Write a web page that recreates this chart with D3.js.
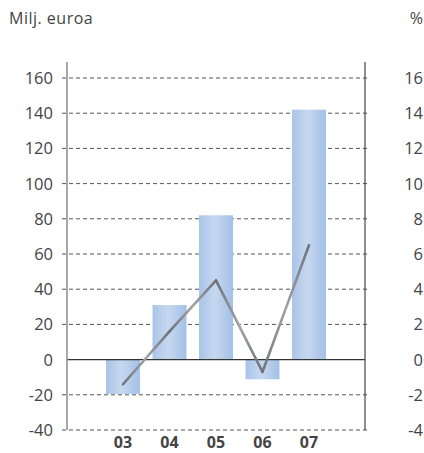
<!DOCTYPE html>
<html>
<head>
<meta charset="utf-8">
<script src="https://cdn.jsdelivr.net/npm/d3@7"></script>
<style>
  body { margin: 0; background: #fff; }
  text { font-family: "Open Sans", "Lato", sans-serif; }
</style>
</head>
<body>
<svg id="chart" width="424" height="453"></svg>
<script>
// data
var years = ["03", "04", "05", "06", "07"];
var profit = [-19.5, 31, 82, -11.2, 142];      // Milj. euroa (bars)
var margin_pct = [-1.4, 1.6, 4.5, -0.7, 6.5];   // % (line)
var leftTicks = [-40, -20, 0, 20, 40, 60, 80, 100, 120, 140, 160];
var rightTicks = [-4, -2, 0, 2, 4, 6, 8, 10, 12, 14, 16];

var svg = d3.select("#chart");
var x0 = 67, x1 = 365;

// scales
var y = d3.scaleLinear().domain([-40, 160]).range([430, 78]);
var y2 = d3.scaleLinear().domain([-4, 16]).range([430, 78]);
var x = d3.scaleBand()
  .domain(years)
  .range([99.75, 332.25])
  .paddingInner(0.27)
  .paddingOuter(0.135);

// gradients
var defs = svg.append("defs");
var bg = defs.append("linearGradient").attr("id", "barGrad")
  .attr("x1", "0%").attr("x2", "100%").attr("y1", "0%").attr("y2", "0%");
bg.append("stop").attr("offset", "0%").attr("stop-color", "#a9c4e8");
bg.append("stop").attr("offset", "45%").attr("stop-color", "#c6d8ef");
bg.append("stop").attr("offset", "100%").attr("stop-color", "#a3c0e7");

// gridlines (dashed)
svg.append("g")
  .selectAll("line")
  .data(leftTicks.filter(function(d) { return d !== 0; }))
  .join("line")
    .attr("x1", x0 - 5)
    .attr("x2", x1 + 4)
    .attr("y1", function(d) { return y(d); })
    .attr("y2", function(d) { return y(d); })
    .attr("stroke", "#555")
    .attr("stroke-width", 1)
    .attr("stroke-dasharray", "4,3");

// bars
svg.append("g")
  .selectAll("rect")
  .data(years)
  .join("rect")
    .attr("x", function(d) { return x(d); })
    .attr("width", x.bandwidth())
    .attr("y", function(d, i) { return y(Math.max(0, profit[i])); })
    .attr("height", function(d, i) { return Math.abs(y(profit[i]) - y(0)); })
    .attr("fill", "url(#barGrad)");

// zero line
svg.append("line")
  .attr("x1", x0).attr("x2", x1)
  .attr("y1", y(0)).attr("y2", y(0))
  .attr("stroke", "#333").attr("stroke-width", 1.2);

// axes lines
svg.append("line")
  .attr("x1", x0).attr("x2", x0).attr("y1", 62).attr("y2", 430)
  .attr("stroke", "#8a8a90").attr("stroke-width", 1.5);
svg.append("line")
  .attr("x1", x1).attr("x2", x1).attr("y1", 62).attr("y2", 430)
  .attr("stroke", "#444").attr("stroke-width", 1.2);

// line (% margin), segment by segment with a soft gradient
var pts = years.map(function(d, i) {
  return [x(d) + x.bandwidth() / 2, y2(margin_pct[i])];
});
for (var i = 0; i < pts.length - 1; i++) {
  var g = defs.append("linearGradient").attr("id", "lineGrad" + i)
    .attr("gradientUnits", "userSpaceOnUse")
    .attr("x1", pts[i][0]).attr("y1", pts[i][1])
    .attr("x2", pts[i + 1][0]).attr("y2", pts[i + 1][1]);
  g.append("stop").attr("offset", "0%").attr("stop-color", "#6f727b");
  g.append("stop").attr("offset", "50%").attr("stop-color", "#a2a3a8");
  g.append("stop").attr("offset", "100%").attr("stop-color", "#6f727b");
}
svg.append("g")
  .selectAll("line")
  .data(pts.slice(0, -1))
  .join("line")
    .attr("x1", function(d) { return d[0]; })
    .attr("y1", function(d) { return d[1]; })
    .attr("x2", function(d, i) { return pts[i + 1][0]; })
    .attr("y2", function(d, i) { return pts[i + 1][1]; })
    .attr("stroke", function(d, i) { return "url(#lineGrad" + i + ")"; })
    .attr("stroke-width", 2.6)
    .attr("stroke-linecap", "round");

// tick labels
svg.append("g")
  .selectAll("text")
  .data(leftTicks)
  .join("text")
    .attr("x", 53)
    .attr("y", function(d) { return y(d) + 6; })
    .attr("text-anchor", "end")
    .attr("fill", "#444")
    .style("font-size", "16.5px")
    .text(function(d) { return d; });

svg.append("g")
  .selectAll("text")
  .data(rightTicks)
  .join("text")
    .attr("x", 423)
    .attr("y", function(d) { return y2(d) + 6; })
    .attr("text-anchor", "end")
    .attr("fill", "#444")
    .style("font-size", "16.5px")
    .text(function(d) { return d; });

svg.append("g")
  .selectAll("text")
  .data(years)
  .join("text")
    .attr("x", function(d) { return x(d) + x.bandwidth() / 2; })
    .attr("y", 448)
    .attr("text-anchor", "middle")
    .attr("fill", "#444")
    .style("font-size", "16px")
    .style("font-weight", "bold")
    .text(function(d) { return d; });

// axis titles
svg.append("text")
  .attr("x", 9).attr("y", 24)
  .attr("fill", "#444")
  .style("font-size", "16px")
  .style("letter-spacing", "0.5px")
  .text("Milj. euroa");
svg.append("text")
  .attr("x", 423).attr("y", 24)
  .attr("text-anchor", "end")
  .attr("fill", "#444")
  .style("font-size", "16px")
  .text("%");
</script>
</body>
</html>
